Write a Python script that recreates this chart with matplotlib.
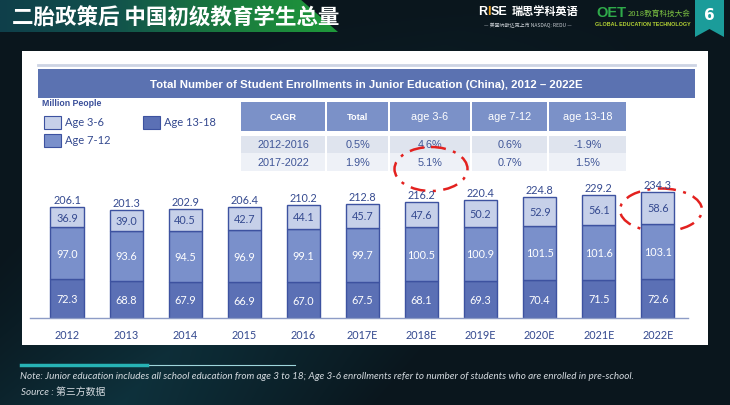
import matplotlib
matplotlib.use("Agg")
import matplotlib.pyplot as plt
import numpy as np
from matplotlib.patches import Rectangle, Polygon, Ellipse
from matplotlib.colors import LinearSegmentedColormap

# data
years = ['2012', '2013', '2014', '2015', '2016', '2017E', '2018E', '2019E', '2020E', '2021E', '2022E']
age_13_18 = [72.3, 68.8, 67.9, 66.9, 67.0, 67.5, 68.1, 69.3, 70.4, 71.5, 72.6]
age_7_12 = [97.0, 93.6, 94.5, 96.9, 99.1, 99.7, 100.5, 100.9, 101.5, 101.6, 103.1]
age_3_6 = [36.9, 39.0, 40.5, 42.7, 44.1, 45.7, 47.6, 50.2, 52.9, 56.1, 58.6]
totals = [206.1, 201.3, 202.9, 206.4, 210.2, 212.8, 216.2, 220.4, 224.8, 229.2, 234.3]

cagr_header = ['CAGR', 'Total', 'age 3-6', 'age 7-12', 'age 13-18']
cagr_rows = [['2012-2016', '0.5%', '4.6%', '0.6%', '-1.9%'],
             ['2017-2022', '1.9%', '5.1%', '0.7%', '1.5%']]

legend_labels = ['Age 3-6', 'Age 7-12', 'Age 13-18']

title_cn = '二胎政策后 中国初级教育学生总量'
chart_title = 'Total Number of Student Enrollments in Junior Education (China), 2012 – 2022E'
note = ('Note: Junior education includes all school education from age 3 to 18; '
        'Age 3-6 enrollments refer to number of students who are enrolled in pre-school.')
source = 'Source : 第三方数据'

c_top = '#c6d0e9'
c_mid = '#7a90cb'
c_bot = '#5b70b5'
c_edge = '#3d52a0'
c_text = '#34498f'
bg_col = '#0b1a22'

fig = plt.figure(figsize=(7.3, 4.06), dpi=100)
fig.patch.set_facecolor(bg_col)

bg = fig.add_axes([0, 0, 1, 1])
bg.set_xlim(0, 730)
bg.set_ylim(406, 0)
bg.axis('off')

# dark slide background with a faint teal sweep at bottom left
yy, xx = np.mgrid[0:406, 0:730]
glow = np.clip(1 - np.abs((xx - 0.9 * (406 - yy)) - 120) / 260, 0, 1) * (yy / 406)
bgcm = LinearSegmentedColormap.from_list('bgc', ['#0a161d', '#0f3a46'])
bg.imshow(glow, extent=[0, 730, 406, 0], cmap=bgcm, vmin=0, vmax=1.3, aspect='auto', zorder=0)

# header band
band = Polygon([[0, 0], [300, 0], [338, 33], [0, 33]], closed=True, transform=bg.transData)
gcm = LinearSegmentedColormap.from_list('g', ['#0f3f4a', '#12524c', '#1a7a3e', '#1f9a3a'])
grad = np.tile(np.linspace(0, 1, 200), (10, 1))
im = bg.imshow(grad, extent=[0, 340, 33, 0], cmap=gcm, aspect='auto', zorder=1)
im.set_clip_path(band)
bg.text(12, 18, title_cn, color='white', fontsize=15.5, fontweight='bold',
        family=['Noto Sans CJK SC', 'DejaVu Sans'], va='center', ha='left', zorder=3)

# logos
lf = 'Liberation Sans'
bg.text(478, 12, 'R', color='white', fontsize=9, fontweight='bold', family=lf, va='center', zorder=3)
bg.text(487, 12, 'I', color='#f2a623', fontsize=9, fontweight='bold', family=lf, va='center', zorder=3)
bg.text(490.5, 12, 'SE', color='white', fontsize=9, fontweight='bold', family=lf, va='center', zorder=3)
bg.text(512, 12, '瑞思学科英语', color='white', fontsize=8, fontweight='bold',
        family=['Noto Sans CJK SC'], va='center', zorder=3)
bg.text(528, 25, '— 美国纳斯达克上市 NASDAQ: REDU —', color='#c8cdd2', fontsize=3.6,
        family=['Noto Sans CJK SC'], va='center', ha='center', zorder=3)
bg.text(596, 13, 'OET', color='#2faa4a', fontsize=10.5, fontweight='bold', family=lf,
        va='center', zorder=3)
bg.text(628, 14, '2018教育科技大会', color='#7cc242', fontsize=5.5,
        family=['Noto Sans CJK SC'], va='center', zorder=3)
bg.text(643, 25, 'GLOBAL EDUCATION TECHNOLOGY', color='#b5d334', fontsize=3.9, fontweight='bold',
        family=lf, va='center', ha='center', zorder=3)
bg.add_patch(Polygon([[695, 0], [724, 0], [724, 38], [709.5, 30], [695, 38]],
                     closed=True, facecolor='#1b9c9a', edgecolor='none', zorder=2))
bg.text(709.5, 16, '6', color='white', fontsize=11, fontweight='bold', ha='center', va='center', zorder=3)

# white panel
bg.add_patch(Rectangle((22, 52), 686, 294, facecolor='white', edgecolor='none', zorder=1))
bg.plot([38, 695], [66, 66], color='#cdd4e4', lw=2, zorder=2)
bg.add_patch(Rectangle((38, 70), 657, 29, facecolor='#5b72b1', edgecolor='none', zorder=2))
bg.text(366, 85, chart_title, color='white', fontsize=8.2, fontweight='bold',
        family='Liberation Sans', ha='center', va='center', zorder=3)

# legend
bg.text(42, 104, 'Million People', color='#3a4f9a', fontsize=6.3, fontweight='bold',
        family='Liberation Sans', va='center', zorder=3)
leg_pos = [(44, 123), (44, 141), (143, 123)]
for (lx, ly), lab, col in zip(leg_pos, legend_labels, [c_top, c_mid, c_bot]):
    bg.add_patch(Rectangle((lx, ly - 6.5), 17, 13, facecolor=col, edgecolor=c_edge, lw=0.8, zorder=3))
    bg.text(lx + 21, ly, lab, color=c_text, fontsize=8, family='Lato', va='center', zorder=3)

# CAGR table
col_x = [241, 327, 390, 472, 549]
col_w = [84, 61, 80, 75, 77]
row_y = [(103, 28.5), (136.5, 17), (154, 18)]
row_bg = ['#7b91c8', '#dfe4ee', '#eef1f7']
for r, (ry, rh) in enumerate(row_y):
    for c in range(5):
        bg.add_patch(Rectangle((col_x[c], ry), col_w[c], rh, facecolor=row_bg[r],
                               edgecolor='none', zorder=2))
        if r == 0:
            txt = cagr_header[c]
            bold = c < 2
            bg.text(col_x[c] + col_w[c] / 2, ry + rh / 2, txt, color='white',
                    fontsize=6.6 if bold else 7.8, fontweight='bold' if bold else 'normal',
                    family='Liberation Sans', ha='center', va='center', zorder=3)
        else:
            bg.text(col_x[c] + col_w[c] / 2, ry + rh / 2, cagr_rows[r - 1][c], color='#3f5597',
                    fontsize=7.8, family='Liberation Sans', ha='center', va='center', zorder=3)

# bars
ax = fig.add_axes([30 / 730, (406 - 319) / 406, 658 / 730, 139 / 406], zorder=2)
ax.patch.set_alpha(0)
x = np.arange(len(years))
w = 0.56
b1 = ax.bar(x, age_13_18, w, color=c_bot, edgecolor=c_edge, lw=1)
b2 = ax.bar(x, age_7_12, w, bottom=age_13_18, color=c_mid, edgecolor=c_edge, lw=1)
bot3 = np.array(age_13_18) + np.array(age_7_12)
b3 = ax.bar(x, age_3_6, w, bottom=bot3, color=c_top, edgecolor=c_edge, lw=1)
ax.bar_label(b1, labels=[f'{v:.1f}' for v in age_13_18], label_type='center',
             color='white', fontsize=7.8, family='Lato')
ax.bar_label(b2, labels=[f'{v:.1f}' for v in age_7_12], label_type='center',
             color='white', fontsize=7.8, family='Lato')
ax.bar_label(b3, labels=[f'{v:.1f}' for v in age_3_6], label_type='center',
             color=c_text, fontsize=7.8, family='Lato')
ax.bar_label(b3, labels=[f'{v:.1f}' for v in totals], padding=1.5,
             color=c_text, fontsize=7.8, family='Lato')
ax.set_xlim(-0.626, 10.51)
ax.set_ylim(0, 258.8)
for s in ['top', 'right', 'left']:
    ax.spines[s].set_visible(False)
ax.spines['bottom'].set_color('#8d9cc6')
ax.spines['bottom'].set_linewidth(1)
ax.set_yticks([])
ax.set_xticks(x, years)
ax.tick_params(axis='x', length=0, pad=8, labelsize=7.8, labelcolor=c_text)
for t in ax.get_xticklabels():
    t.set_family('Lato')

# red dashed highlight circles
for cx, cy, ew, eh in [(431, 170, 73, 44), (661, 211, 82, 43)]:
    bg.add_patch(Ellipse((cx, cy), ew, eh, fill=False, edgecolor='#e3211f', lw=1.8,
                         linestyle=(0, (6, 3, 1.2, 3)), zorder=5))

# footer
bg.plot([21, 295], [366, 366], color='#9fd6dc', lw=0.8, zorder=2)
bg.plot([21, 147], [366, 366], color='#27b3b5', lw=2.5, zorder=3)
bg.text(20, 377, note, color='#d4dadf', fontsize=7.1, style='italic',
        family=['Lato', 'DejaVu Sans'], va='center', zorder=3)
bg.text(21, 392, source, color='#d4dadf', fontsize=7.1, style='italic',
        family=['Lato', 'Noto Sans CJK SC'], va='center', zorder=3)

fig.savefig('out.png', dpi=100, facecolor=fig.get_facecolor())
